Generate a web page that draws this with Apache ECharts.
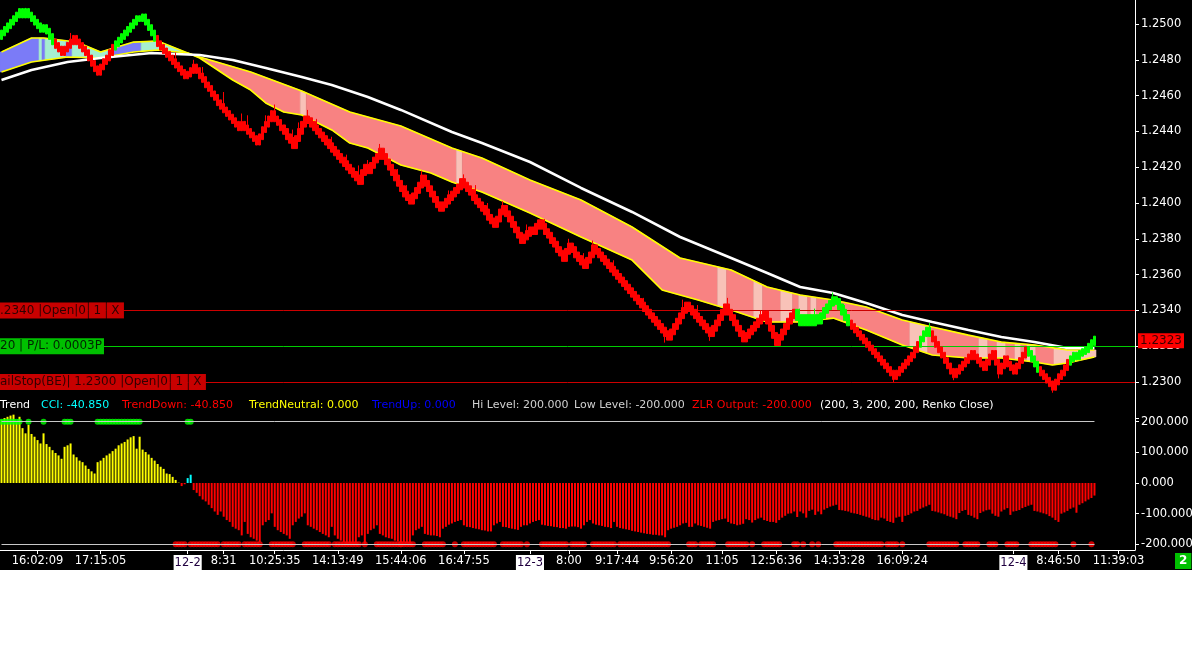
<!DOCTYPE html>
<html><head><meta charset="utf-8">
<script src="https://cdn.jsdelivr.net/npm/echarts@6/dist/echarts.min.js"></script>
<style>html,body{margin:0;padding:0;background:#fff;}#c{width:1192px;height:570px;background:#000;}</style>
</head><body><div id="c"></div>
<script>
// ---------------- DATA (prices stored as pips: price = 1 + pips/10000) ----------------
const renkoClosePips = [
2495,2497,2499,2501,2503,2505,2507,2505,2507,2505,2503,2501,2499,2497,2498,2496,2493,2490,2488,2486,
2484,2486,2488,2490,2492,2490,2488,2486,2484,2481,2478,2475,2473,2476,2479,2481,2484,2487,2489,2491,
2493,2495,2497,2499,2501,2503,2503,2504,2501,2498,2495,2492,2489,2487,2485,2483,2481,2479,2477,2475,
2473,2471,2472,2474,2476,2474,2471,2469,2466,2464,2461,2459,2456,2454,2452,2450,2448,2446,2444,2442,
2444,2442,2440,2438,2436,2434,2437,2441,2444,2447,2450,2447,2445,2442,2440,2437,2435,2432,2436,2440,
2444,2447,2446,2444,2442,2440,2438,2436,2434,2432,2430,2428,2426,2424,2422,2420,2418,2416,2414,2412,
2417,2420,2418,2421,2424,2426,2429,2426,2423,2420,2417,2414,2411,2408,2405,2403,2401,2404,2407,2410,
2414,2411,2408,2405,2402,2399,2397,2399,2401,2403,2405,2407,2409,2412,2410,2408,2406,2403,2401,2399,
2397,2395,2392,2390,2388,2391,2395,2397,2394,2391,2388,2385,2382,2379,2381,2383,2385,2384,2387,2389,
2387,2384,2382,2379,2377,2374,2372,2369,2373,2376,2374,2371,2369,2367,2365,2368,2371,2375,2373,2371,
2369,2367,2365,2363,2361,2359,2357,2355,2353,2351,2349,2347,2345,2343,2341,2339,2337,2335,2333,2331,
2329,2327,2325,2328,2331,2334,2337,2340,2343,2341,2339,2337,2335,2333,2331,2329,2327,2330,2333,2336,
2339,2342,2339,2336,2333,2330,2327,2324,2326,2328,2330,2332,2334,2336,2338,2334,2330,2326,2322,2325,
2328,2331,2334,2337,2339,2336,2333,2336,2333,2336,2333,2336,2334,2337,2340,2342,2344,2346,2345,2342,
2339,2336,2333,2331,2329,2327,2325,2323,2321,2319,2317,2315,2313,2311,2309,2307,2305,2303,2305,2307,
2309,2311,2313,2315,2318,2321,2324,2327,2329,2327,2324,2321,2318,2315,2312,2309,2306,2304,2306,2308,
2310,2312,2314,2316,2314,2312,2310,2308,2311,2314,2316,2311,2306,2309,2313,2310,2308,2306,2309,2312,
2315,2318,2316,2313,2310,2307,2305,2303,2301,2299,2297,2300,2303,2305,2308,2311,2313,2315,2314,2316,
2317,2318,2320,2322,2324];
const brickTrend = [[0,17,'up'],[18,37,'down'],[38,51,'up'],[52,264,'down'],[265,282,'up'],[283,305,'down'],[306,309,'up'],[310,341,'down'],[342,345,'up'],[346,355,'down'],[356,364,'up']];
const wickHigh = [[8,2509],[14,2500],[23,2495],[58,2484],[64,2480],[67,2476],[74,2462],[80,2450],[82,2449],[88,2449],[91,2455],[97,2441],[99,2445],[102,2452],[105,2447],[110,2437],[115,2427],[119,2421],[122,2424],[126,2433],[132,2419],[135,2410],[140,2418],[149,2407],[154,2416],[158,2410],[162,2400],[167,2401],[175,2388],[181,2391],[189,2380],[194,2372],[197,2379],[204,2368],[214,2347],[227,2346],[232,2343],[242,2347],[253,2340],[266,2341],[271,2341],[277,2350],[281,2343],[309,2333]];
const wickLow = [[221,2322],[236,2323],[297,2300],[317,2301],[332,2302],[350,2294]];

const slowMA = [[0,2468.7],[10,2474.3],[22,2478.8],[33,2481.0],[50,2483.8],[66,2482.7],[77,2479.9],[88,2475.4],[100,2470.4],[110,2465.9],[122,2459.2],[133,2452.0],[150,2439.7],[160,2433.5],[176,2422.9],[193,2408.4],[210,2395.0],[226,2381.0],[243,2369.3],[255,2360.9],[266,2353.1],[277,2349.7],[288,2344.1],[300,2337.4],[310,2333.5],[322,2329.0],[333,2325.1],[344,2322.3],[355,2319.0],[364,2319.0]];
const bandTop = [[0,2484.4],[10,2492.2],[14,2492.2],[25,2489.9],[33,2484.4],[44,2489.9],[52,2490.5],[62,2483.8],[66,2481.6],[83,2473.2],[100,2462.6],[116,2450.8],[133,2443.0],[150,2430.7],[160,2425.1],[176,2412.8],[193,2401.7],[210,2386.6],[226,2369.3],[243,2362.6],[255,2353.1],[266,2348.6],[277,2345.8],[288,2341.9],[300,2334.6],[310,2330.7],[322,2326.2],[333,2322.3],[344,2320.7],[355,2317.9],[364,2317.9]];
const bandBottom = [[0,2473.2],[10,2478.8],[22,2481.6],[33,2481.0],[44,2484.4],[52,2485.5],[62,2483.8],[66,2481.0],[72,2474.3],[77,2468.7],[83,2463.1],[88,2455.9],[94,2450.8],[100,2449.2],[110,2440.8],[116,2433.5],[122,2430.7],[133,2421.2],[143,2416.8],[150,2411.7],[160,2406.1],[176,2394.4],[193,2381.0],[210,2368.1],[220,2351.4],[232,2345.8],[243,2340.2],[255,2333.5],[266,2333.5],[277,2335.7],[288,2329.0],[300,2320.7],[310,2315.1],[322,2313.4],[333,2313.4],[344,2311.2],[350,2309.5],[355,2310.6],[364,2314.0]];
const bandZones = [[0,12,'blue'],[13,13,'mint'],[14,14,'blue'],[15,21,'mint'],[22,23,'blue'],[24,35,'mint'],[36,46,'blue'],[47,62,'mint'],[63,99,'pink'],[100,101,'light'],[102,151,'pink'],[152,153,'light'],[154,238,'pink'],[239,241,'light'],[242,250,'pink'],[251,253,'light'],[254,259,'pink'],[260,263,'light'],[264,265,'pink'],[266,268,'light'],[269,269,'pink'],[270,271,'light'],[272,302,'pink'],[303,308,'light'],[309,325,'pink'],[326,328,'light'],[329,331,'pink'],[332,334,'light'],[335,337,'pink'],[338,339,'light'],[340,341,'pink'],[342,344,'light'],[345,350,'pink'],[351,364,'light']];

const cciValues = [
207,212,216,220,223,201,216,179,162,190,160,151,140,129,162,127,118,107,98,90,79,118,123,129,93,84,73,68,57,46,38,31,68,73,82,90,96,104,112,123,129,134,142,149,153,112,151,109,101,93,82,73,62,53,46,31,29,20,10,1,
-10,-4,16,27,
-23,-32,-43,-54,-60,-71,-82,-93,-104,-93,-110,-121,-127,-143,-149,-154,-171,-127,-166,-177,-182,-188,-193,-138,-127,-121,-99,-143,-154,-160,-166,-171,-182,-138,-127,-116,-110,-99,-138,-143,-149,-154,-160,-166,-171,-177,-143,-171,-182,-188,-193,-200,-200,-200,-200,-177,-171,-200,-166,-154,-149,-138,-166,-171,-177,-180,-182,-188,-191,
-193,-193,-196,-200,-171,-154,-149,-143,-166,-169,-171,-171,-173,-177,-149,-143,-136,-132,-127,-124,
-121,-138,-143,-144,-147,-149,-151,-154,-155,-158,-158,-138,-132,-127,-143,-144,-147,-149,-151,-153,
-143,-138,-138,-132,-127,-124,-121,-136,-138,-140,-141,-143,-144,-147,-147,-149,-143,-142,-142,-144,
-149,-138,-127,-121,-132,-136,-138,-140,-143,-144,-147,-127,-143,-147,-149,-151,-153,-156,-158,-160,
-162,-164,-166,-167,-169,-169,-171,-171,-177,-154,-149,-146,-143,-138,-132,-130,-143,-143,-132,-138,
-140,-143,-146,-149,-127,-123,-121,-118,-116,-127,-132,-134,-138,-136,-133,-118,-121,-129,-121,-116,
-113,-121,-124,-127,-127,-130,-121,-113,-107,-100,-99,-93,-111,
-93,-99,-113,-91,-87,-104,-93,-102,-87,-82,-77,-74,-71,-88,-89,-91,-93,-97,-99,-101,
-104,-107,-110,-113,-118,-121,-122,-113,-116,-124,-127,-130,-113,-110,-127,-107,-104,-99,-93,-91,
-84,-80,-76,-71,-91,-93,-96,-99,-102,-107,-110,-113,-118,-98,-91,-88,-104,-107,-113,-118,
-98,-93,-89,-87,-100,-107,-110,-93,-87,-82,-104,-93,-91,-88,-82,-78,-74,-71,-91,-93,
-96,-99,-102,-108,-113,-121,-127,-100,-96,-91,-84,-80,-97,-71,-66,-60,-54,-49,-41];
const cciTrend = [[0,59,'neutral'],[60,61,'down'],[62,63,'up'],[64,364,'down']];
const zlrUpRuns = [[0,5],[6,6],[9,9],[14,14],[21,23],[32,46],[62,63]];
const zlrDownRuns = [[58,61],[63,72],[74,79],[81,86],[90,97],[101,109],[111,119],[121,121],[125,133],[133,137],[141,147],[151,151],[154,164],[167,173],[175,175],[180,188],[190,194],[197,204],[206,222],[229,231],[233,237],[242,248],[250,250],[254,259],[264,265],[267,267],[270,270],[272,272],[278,293],[295,298],[300,300],[309,318],[321,325],[329,331],[335,338],[343,351],[357,357],[363,363]];
const hiLevel = 200, lowLevel = -200;

const timeLabelIdx  = [12,33,62,74,91,112,133,154,176,189,205,223,240,258,279,300,337,352,372];
const timeLabelText = ['16:02:09','17:15:05','12-2','8:31','10:25:35','14:13:49','15:44:06','16:47:55','12-3','8:00','9:17:44','9:56:20','11:05','12:56:36','14:33:28','16:09:24','12-4','8:46:50','11:39:03'];
const priceTicks = [1.2300,1.2320,1.2340,1.2360,1.2380,1.2400,1.2420,1.2440,1.2460,1.2480,1.2500];
const lastPrice = 1.2323;
const orderPrices = [1.2340, 1.2320, 1.2300];
const orderKinds  = ['stop','position','stop'];
const orderLabels = [['.2340 |Open|0','1','X'], ['20 | P/L: 0.0003P'], ['ailStop(BE)| 1.2300 |Open|0','1','X']];
const legendTexts = ['Trend','CCI: -40.850','TrendDown: -40.850','TrendNeutral: 0.000','TrendUp: 0.000','Hi Level: 200.000','Low Level: -200.000','ZLR Output: -200.000','(200, 3, 200, 200, Renko Close)'];
const cornerText = '2';

// ---------------- STYLE / LAYOUT ----------------
const NSLOT = 378;
const FONT = "'DejaVu Sans', sans-serif";
const legendColors = ['#ffffff','#00ffff','#ff0000','#ffff00','#0000ff','#d0d0d0','#d0d0d0','#ff0000','#ffffff'];
const legendX = [0,41,122,249,372,472,574,692,820];
const zoneColors = {blue:'#7b7bf7', mint:'#a6efd0', pink:'#f88282', light:'#f8c2b8'};
const cciColors = {neutral:'#ffff00', down:'#ff0000', up:'#00ffff'};
const BRICK_PAD = 1.6;

const toPrice = p => 1 + p / 10000;
function lookup(ranges, i){ for (const r of ranges) if (i >= r[0] && i <= r[1]) return r[2]; return null; }
function interp(arr, x){
  if (x <= arr[0][0]) return arr[0][1];
  for (let k = 1; k < arr.length; k++){
    if (x <= arr[k][0]){ const a = arr[k-1], b = arr[k]; return a[1] + (b[1]-a[1]) * (x-a[0])/(b[0]-a[0]); }
  }
  return arr[arr.length-1][1];
}
const hiMap = Object.fromEntries(wickHigh), loMap = Object.fromEntries(wickLow);

const candleData = renkoClosePips.map((c, i) => {
  const prev = i > 0 ? renkoClosePips[i-1] : c - 2;
  const top = Math.max(prev, c) + BRICK_PAD, bot = Math.min(prev, c) - BRICK_PAD;
  const up = c >= prev;
  const hi = hiMap[i] !== undefined ? Math.max(hiMap[i], top) : top;
  const lo = loMap[i] !== undefined ? Math.min(loMap[i], bot) : bot;
  const col = lookup(brickTrend, i) === 'up' ? '#00ff00' : '#ff0000';
  return {value:[toPrice(up?bot:top), toPrice(up?top:bot), toPrice(lo), toPrice(hi)],
          itemStyle:{color:col, color0:col, borderColor:col, borderColor0:col}};
});
const cciData = cciValues.map((v, i) => ({value: v, itemStyle:{color: cciColors[lookup(cciTrend, i)]}}));
const expand = (runs, lvl) => { const out = []; runs.forEach(r => { for (let i = r[0]; i <= r[1]; i++) out.push([i, lvl]); }); return out; };
const cats = Array.from({length: NSLOT}, (_, i) => String(i));
const labelMap = {}; timeLabelIdx.forEach((k, j) => labelMap[k] = timeLabelText[j]);
const lastIdx = renkoClosePips.length - 1;

const chart = echarts.init(document.getElementById('c'));
const baseGrid = {left:0, right:57, containLabel:false, outerBoundsMode:'none'};
const hidden = {show:false};
const solid = (c) => ({color:c, width:1, type:'solid'});
const option = {
  backgroundColor:'#000',
  animation:false,
  grid:[
    Object.assign({top:-11.8, height:429.6}, baseGrid),
    Object.assign({top:421.7, height:122.6}, baseGrid),
    Object.assign({top:0, height:550}, baseGrid)
  ],
  xAxis:[
    {type:'category', gridIndex:0, data:cats, boundaryGap:true, show:false},
    {type:'category', gridIndex:1, data:cats, boundaryGap:true, show:false},
    {type:'value', gridIndex:0, min:-0.5, max:NSLOT-0.5, show:false},
    {type:'category', gridIndex:2, data:cats, boundaryGap:true,
     axisLine:{show:true, lineStyle:{color:'#ffffff', width:1}},
     axisTick:{show:true, alignWithLabel:true, length:4, interval:(i)=>labelMap[i]!==undefined, lineStyle:{color:'#ffffff'}},
     axisLabel:{show:true, interval:(i)=>labelMap[i]!==undefined, margin:5, color:'#ffffff', fontFamily:FONT, fontSize:11.5,
       formatter:(v, i)=>{ const t = labelMap[i]; if (t === undefined) return ''; return /-/.test(t) ? '{d|'+t+'}' : t; },
       rich:{d:{backgroundColor:'#ffffff', color:'#200040', fontFamily:FONT, fontSize:11.5, padding:[2,1,2,1]}}},
     splitLine:hidden}
  ],
  yAxis:[
    {type:'value', gridIndex:0, position:'right', min:1.228, max:1.252, interval:0.002,
     axisLine:{show:false, onZero:false}, splitLine:hidden,
     axisTick:{show:true, inside:false, length:4, lineStyle:{color:'#ffffff'}},
     axisLabel:{show:true, customValues:priceTicks, margin:6, color:'#ffffff', fontFamily:FONT, fontSize:11.5,
       formatter:v => (v < 1.22995 || v > 1.25005) ? '' : v.toFixed(4)}},
    {type:'value', gridIndex:1, position:'right', min:-200, max:200, interval:100,
     axisLine:{show:false, onZero:false}, splitLine:hidden,
     axisTick:{show:true, inside:false, length:4, lineStyle:{color:'#ffffff'}},
     axisLabel:{show:true, margin:6, color:'#ffffff', fontFamily:FONT, fontSize:11.5, formatter:v => v.toFixed(3)}},
    {type:'value', gridIndex:2, position:'right', min:0, max:1,
     axisLine:{show:true, onZero:false, lineStyle:{color:'#ffffff', width:1}}, axisTick:hidden, axisLabel:hidden, splitLine:hidden}
  ],
  series:[
    {type:'custom', name:'band', xAxisIndex:2, yAxisIndex:0, silent:true, z:1,
     data: bandZones.map(zn => [zn[0], zn[1]]), encode:{x:[0,1]},
     renderItem:(params, api) => {
       const zn = bandZones[params.dataIndex];
       const x0 = zn[0]-0.5, x1 = zn[1]+0.5;
       const set = new Set([x0, x1]);
       bandTop.concat(bandBottom).forEach(p => { if (p[0] > x0 && p[0] < x1) set.add(p[0]); });
       const xs = Array.from(set).sort((a,b)=>a-b);
       const topPts = xs.map(x => api.coord([x, toPrice(interp(bandTop, x))]));
       const botPts = xs.slice().reverse().map(x => api.coord([x, toPrice(interp(bandBottom, x))]));
       const col = zoneColors[zn[2]];
       return {type:'polygon', shape:{points: topPts.concat(botPts)}, style:{fill:col, stroke:col, lineWidth:0.6}};
     }},
    {type:'line', name:'bandTop', xAxisIndex:2, yAxisIndex:0, z:3, showSymbol:false, silent:true,
     data: bandTop.map(p => [p[0], toPrice(p[1])]), lineStyle:{color:'#ffff00', width:1.6}},
    {type:'line', name:'bandBottom', xAxisIndex:2, yAxisIndex:0, z:3, showSymbol:false, silent:true,
     data: bandBottom.map(p => [p[0], toPrice(p[1])]), lineStyle:{color:'#ffff00', width:1.6}},
    {type:'line', name:'slowMA', xAxisIndex:2, yAxisIndex:0, z:3, showSymbol:false, silent:true,
     data: slowMA.map(p => [p[0], toPrice(p[1])]), lineStyle:{color:'#ffffff', width:2.6}},
    {type:'candlestick', name:'renko', xAxisIndex:0, yAxisIndex:0, z:5, barWidth:3, silent:true,
     data: candleData, itemStyle:{borderWidth:1}},
    {type:'line', name:'orders', xAxisIndex:2, yAxisIndex:0, z:6, showSymbol:false, silent:true,
     data: [], lineStyle:{width:0},
     markLine:{silent:true, symbol:['none','none'], animation:false, precision:4, label:{show:false},
       data:[
         {yAxis:orderPrices[0], lineStyle:solid('#cc0000')},
         {yAxis:orderPrices[1], lineStyle:solid('#00cc00')},
         {yAxis:orderPrices[2], lineStyle:solid('#cc0000')},
         {yAxis:lastPrice, lineStyle:{color:'rgba(0,0,0,0)', width:1, type:'solid'},
          label:{show:true, position:'end', distance:3, formatter:lastPrice.toFixed(4), backgroundColor:'#ff0000',
                 color:'#3a0000', fontFamily:FONT, fontSize:12, padding:[2,2,1,2]}}
       ]}},
    {type:'bar', name:'cci', xAxisIndex:1, yAxisIndex:1, barWidth:2, clip:false, silent:true, z:2, data:cciData,
     markLine:{silent:true, symbol:['none','none'], animation:false, precision:3, label:{show:false},
       lineStyle:{color:'#c8c8c8', width:1, type:'solid'},
       data:[[{coord:[0, hiLevel]},{coord:[lastIdx, hiLevel]}],[{coord:[0, lowLevel]},{coord:[lastIdx, lowLevel]}]]}},
    {type:'scatter', name:'zlrUp', xAxisIndex:1, yAxisIndex:1, z:4, clip:false, silent:true, symbol:'circle', symbolSize:6,
     itemStyle:{color:'#00ff00'}, data: expand(zlrUpRuns, hiLevel)},
    {type:'scatter', name:'zlrDown', xAxisIndex:1, yAxisIndex:1, z:4, clip:false, silent:true, symbol:'circle', symbolSize:6,
     itemStyle:{color:'#ff0000'}, data: expand(zlrDownRuns, lowLevel)}
  ]
};
chart.setOption(option);

// ---------------- overlay texts (order labels placed via the price scale) ----------------
const gfx = [];
orderPrices.forEach((p, k) => {
  const y = chart.convertToPixel({yAxisIndex:0}, p);
  const parts = orderLabels[k];
  const isStop = orderKinds[k] === 'stop';
  let txt = '{m|' + parts[0] + '}';
  for (let j = 1; j < parts.length; j++) txt += '{s| }{b|' + parts[j] + '}';
  const bg = isStop ? '#c80000' : '#00c000';
  const fg = isStop ? '#300000' : '#002400';
  gfx.push({type:'text', x:0, y:y, z:100, silent:true,
    style:{text:txt, verticalAlign:'middle', font:'12px ' + FONT,
      rich:{
        m:{backgroundColor:bg, fill:fg, color:fg, fontSize:12, fontFamily:FONT, lineHeight:16, height:16, padding:[0,2,0,0]},
        s:{backgroundColor:'#500000', width:1, height:16, lineHeight:16, fontSize:1},
        b:{backgroundColor:bg, fill:fg, color:fg, fontSize:12, fontFamily:FONT, lineHeight:16, height:16, width:17, align:'center'}
      }}});
});
legendTexts.forEach((t, k) => {
  gfx.push({type:'text', x:legendX[k], y:405, z:100, silent:true,
    style:{text:t, fill:legendColors[k], font:'11px ' + FONT, verticalAlign:'middle'}});
});
gfx.push({type:'text', x:1175, y:553, z:100, silent:true,
  style:{text:cornerText, fill:'#ffffff', font:'bold 12px ' + FONT, backgroundColor:'#00c000', padding:[2,4,2,4]}});
chart.setOption({graphic: gfx});
</script></body></html>
